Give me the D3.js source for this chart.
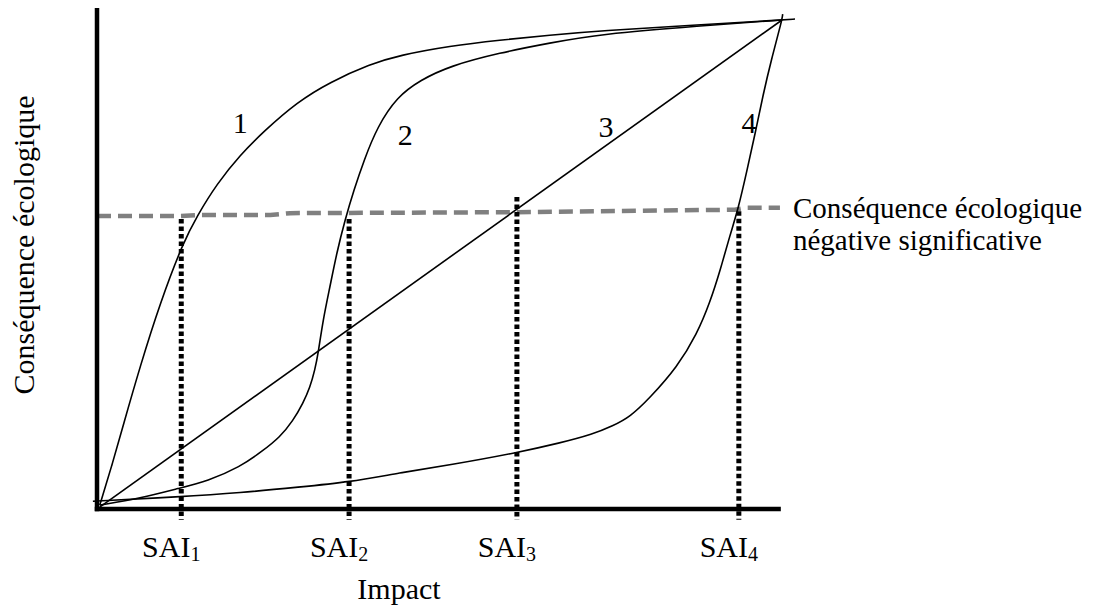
<!DOCTYPE html>
<html>
<head>
<meta charset="utf-8">
<script src="https://cdn.jsdelivr.net/npm/d3@7"></script>
<style>
html, body { margin: 0; padding: 0; background: #fff; }
svg { display: block; }
text { font-family: "Liberation Serif", "Times New Roman", serif; fill: #000; }
</style>
</head>
<body>
<svg id="chart" width="1096" height="607"></svg>
<script>
// ---- data (impact X, consequence Y, both 0..100) ----
const curve1 = [[0.4,0.8],[2.2,9.0],[3.8,17.0],[6.3,29.2],[9.2,42.1],[12.6,54.6],[14.6,59.9],[17.5,66.5],[20.9,72.4],[24.4,77.3],[29.2,83.2],[34.0,87.3],[39.9,91.0],[44.2,92.8],[51.5,94.7],[58.8,95.9],[66.1,96.9],[73.4,97.8],[88.0,99.0],[100,100],[101.9,100.2]];
const curve2 = [[0.4,0.8],[6.3,2.2],[12.1,4.3],[16.1,5.7],[20.9,8.6],[24.2,11.9],[26.7,14.7],[28.6,18.0],[30.1,21.7],[31.1,24.9],[31.8,28.4],[32.3,31.9],[33.0,38.7],[34.0,45.4],[35.0,52.4],[36.2,59.1],[37.5,65.2],[39.0,71.4],[40.9,78.1],[43.8,84.3],[47.2,87.7],[51.5,90.6],[58.8,93.3],[66.1,95.3],[73.4,97.1],[88.0,98.8],[100,100]];
const curve3 = [[0.4,0.4],[100,100]];
const curve4 = [[-0.6,1.6],[12.1,2.5],[20.9,3.3],[29.6,4.5],[36.8,5.5],[44.2,7.4],[51.5,9.0],[61.3,11.5],[67.6,13.5],[72.4,15.3],[75.3,17.0],[77.8,18.8],[80.7,22.7],[84.7,29.0],[87.6,35.8],[89.5,42.3],[91.0,48.9],[92.4,56.0],[93.6,61.3],[94.9,69.3],[96.1,76.9],[97.2,84.5],[98.5,92.2],[100,100],[100.1,101.2]];
const threshold = [[0,59.9],[12.1,59.9],[15.0,60.1],[25.3,60.1],[28.2,60.5],[61.3,60.7],[73.4,60.9],[93.1,61.2],[94.6,61.6],[99.7,61.6]];
const curveNames = ["1","2","3","4"];
const curveLabelX = [20.9, 45.0, 74.3, 95.2];
const curveLabelY = [76.9, 74.4, 76.1, 76.9];
const saiNames = ["1","2","3","4"];
const saiX = [12.3, 36.8, 61.3, 93.7];
const saiTop = [59.3, 59.3, 63.8, 60.9];
const saiBottom = -2.2;
const xTitle = "Impact";
const yTitle = "Conséquence écologique";
const thresholdLabel = ["Conséquence écologique", "négative significative"];

// ---- scales ----
const x = d3.scaleLinear().domain([0, 100]).range([97, 782]);
const y = d3.scaleLinear().domain([0, 100]).range([509, 20]);
const svg = d3.select("#chart");

const line = d3.line().x(d => x(d[0])).y(d => y(d[1])).curve(d3.curveBasis);

// threshold dashed line
svg.append("path").datum(threshold)
  .attr("d", d3.line().x(d => x(d[0])).y(d => y(d[1])))
  .attr("fill", "none").attr("stroke", "#808080").attr("stroke-width", 4.5)
  .attr("stroke-dasharray", "14,7");

// SAI dotted verticals
svg.selectAll("line.sai").data(saiX).enter().append("line")
  .attr("class", "sai")
  .attr("x1", d => x(d)).attr("x2", d => x(d))
  .attr("y1", (d, i) => y(saiTop[i])).attr("y2", y(saiBottom))
  .attr("stroke", "#000").attr("stroke-width", 5)
  .attr("stroke-dasharray", "4.5,3");

// curves
[curve1, curve2, curve4].forEach(c => {
  svg.append("path").datum(c).attr("d", line)
    .attr("fill", "none").attr("stroke", "#000").attr("stroke-width", 1.6);
});
svg.append("path").datum(curve3)
  .attr("d", d3.line().x(d => x(d[0])).y(d => y(d[1])))
  .attr("fill", "none").attr("stroke", "#000").attr("stroke-width", 1.6);

// axes
svg.append("line").attr("x1", x(0)).attr("x2", x(0)).attr("y1", y(0)).attr("y2", y(102))
  .attr("stroke", "#000").attr("stroke-width", 4.5).attr("stroke-linecap", "square");
svg.append("line").attr("x1", x(0)).attr("x2", x(99.5)).attr("y1", y(0)).attr("y2", y(0))
  .attr("stroke", "#000").attr("stroke-width", 4.5).attr("stroke-linecap", "square");

// curve labels
svg.selectAll("text.cl").data(curveNames).enter().append("text")
  .attr("class", "cl")
  .attr("x", (d, i) => x(curveLabelX[i])).attr("y", (d, i) => y(curveLabelY[i]))
  .attr("text-anchor", "middle").attr("font-size", 30).text(d => d);

// SAI labels
const sai = svg.selectAll("text.sail").data(saiNames).enter().append("text")
  .attr("class", "sail")
  .attr("x", (d, i) => x(saiX[i]) - 10).attr("y", 557)
  .attr("text-anchor", "middle").attr("font-size", 30);
sai.append("tspan").text("SAI");
sai.append("tspan").attr("font-size", 20).attr("dy", 4).text(d => d);

// axis titles
svg.append("text").attr("x", 399).attr("y", 599).attr("text-anchor", "middle")
  .attr("font-size", 30).text(xTitle);
svg.append("text").attr("transform", "translate(34,245) rotate(-90)")
  .attr("text-anchor", "middle").attr("font-size", 30).text(yTitle);

// threshold label
svg.selectAll("text.tl").data(thresholdLabel).enter().append("text")
  .attr("class", "tl")
  .attr("x", 793).attr("y", (d, i) => 218 + i * 32)
  .attr("font-size", 29).text(d => d);
</script>
</body>
</html>
